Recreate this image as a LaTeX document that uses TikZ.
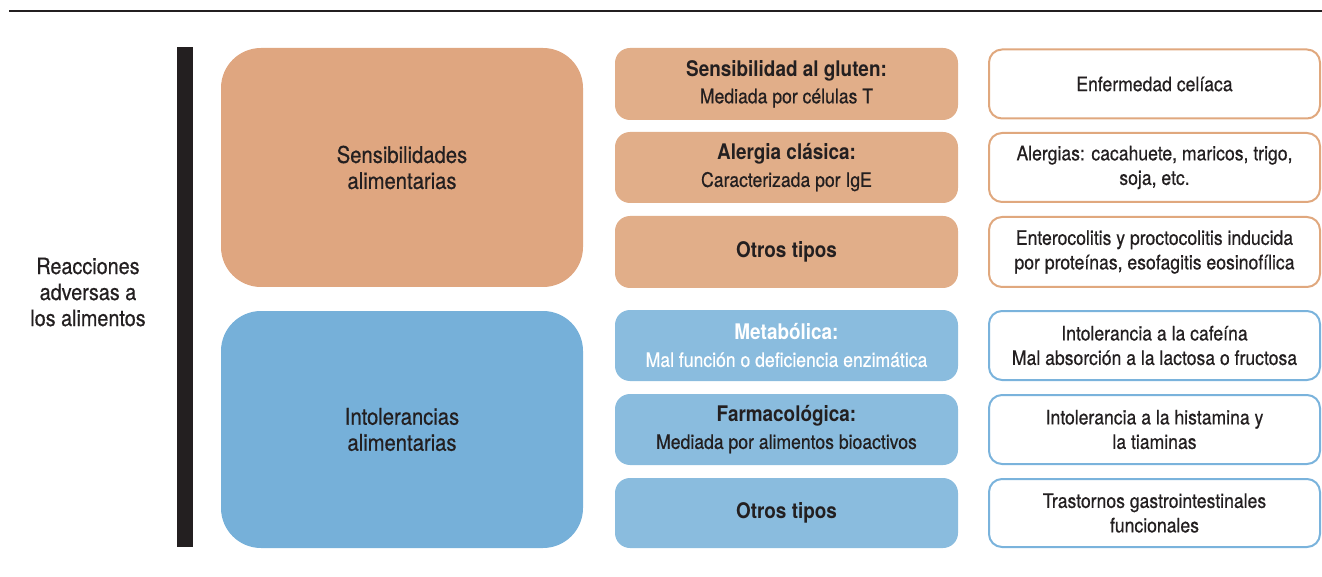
\documentclass[tikz,border=0pt]{standalone}
\usepackage{fontspec}
\setmainfont{TeX Gyre Heros}[FakeStretch=0.88, UprightFeatures={FakeBold=0.5}]
\usetikzlibrary{positioning}
\definecolor{txt}{HTML}{231F20}
\definecolor{orbig}{RGB}{223,166,128}
\definecolor{ormid}{RGB}{225,174,137}
\definecolor{orline}{RGB}{224,168,126}
\definecolor{blbig}{RGB}{118,176,217}
\definecolor{blmid}{RGB}{138,188,222}
\definecolor{blline}{RGB}{122,179,220}
\tikzset{
  bigbox/.style={rounded corners=40pt, minimum width=362pt, minimum height=238pt, inner sep=0pt, align=center, text=txt, font=\fontsize{23}{26}\selectfont},
  midbox/.style={rounded corners=15pt, minimum width=343pt, minimum height=71pt, inner sep=0pt, align=center, text=txt, font=\fontsize{20}{27}\selectfont},
  rightbox/.style={draw, line width=2pt, fill=white, rounded corners=13pt, minimum width=331pt, minimum height=69pt, inner sep=0pt, align=center, text=txt, font=\fontsize{20}{24.5}\selectfont},
}
\newcommand{\hdtext}[1]{{\bfseries\fontsize{21.5}{27}\selectfont #1}}
\begin{document}
\begin{tikzpicture}[x=1pt,y=-1pt]
\useasboundingbox (0,0) rectangle (1322,577);
% top rule
\coordinate (ruleL) at (9,11);
\coordinate (ruleR) at (1322,11);
\draw[line width=2.6pt, txt] (ruleL) -- (ruleR);
% left label
\node[align=center, text=txt, font=\fontsize{22.5}{26}\selectfont] (root) at (88,292) {Reacciones\\adversas a\\los alimentos};
% bar
\node[fill=txt, minimum width=16pt, minimum height=500pt, inner sep=0pt] (bar) at (185,297) {};
% big boxes
\node[bigbox, fill=orbig, minimum height=239pt] (sens) at (402,167.5) {Sensibilidades\\alimentarias};
\node[bigbox, fill=blbig, minimum height=237pt] (intol) at (402,429.5) {Intolerancias\\alimentarias};
% middle boxes
\node[midbox, fill=ormid, minimum height=72pt] (m1) at (786.5,84) {\hdtext{Sensibilidad al gluten:}\\Mediada por células T};
\node[midbox, fill=ormid] (m2) at (786.5,167.5) {\hdtext{Alergia clásica:}\\Caracterizada por IgE};
\node[midbox, fill=ormid, minimum height=72pt] (m3) at (786.5,252) {\hdtext{Otros tipos}};
\node[midbox, fill=blmid, text=white] (m4) at (786.5,345.5) {\hdtext{Metabólica:}\\Mal función o deficiencia enzimática};
\node[midbox, fill=blmid] (m5) at (786.5,429.5) {\hdtext{Farmacológica:}\\Mediada por alimentos bioactivos};
\node[midbox, fill=blmid, minimum height=70pt] (m6) at (786.5,513) {\hdtext{Otros tipos}};
% right boxes
\node[rightbox, draw=orline] (r1) at (1154.5,84) {Enfermedad celíaca};
\node[rightbox, draw=orline] (r2) at (1154.5,167.5) {Alergias: cacahuete, maricos, trigo,\\soja, etc.};
\node[rightbox, draw=orline, minimum height=70pt] (r3) at (1154.5,252) {Enterocolitis y proctocolitis inducida\\por proteínas, esofagitis eosinofílica};
\node[rightbox, draw=blline] (r4) at (1154.5,345.5) {Intolerancia a la cafeína\\Mal absorción a la lactosa o fructosa};
\node[rightbox, draw=blline] (r5) at (1154.5,429.5) {Intolerancia a la histamina y\\la tiaminas};
\node[rightbox, draw=blline, minimum height=68pt] (r6) at (1154.5,513) {Trastornos gastrointestinales\\funcionales};
\end{tikzpicture}
\end{document}
